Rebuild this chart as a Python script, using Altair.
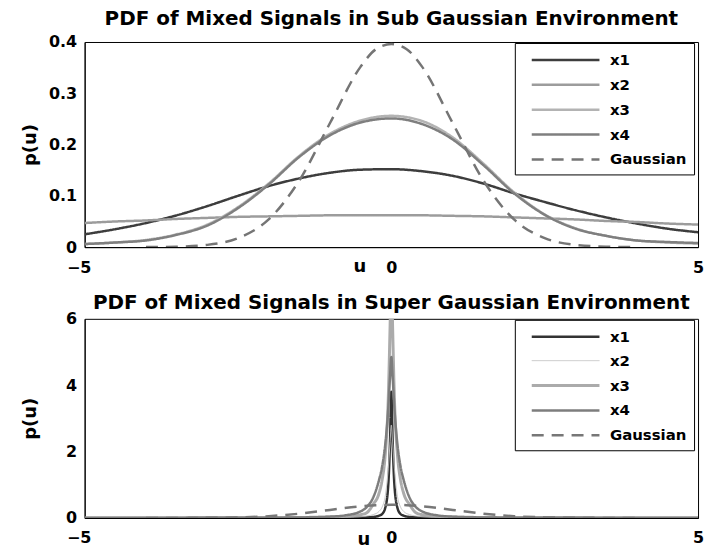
import altair as alt
import pandas as pd

FONT = "DejaVu Sans"
SERIES = ["x1", "x2", "x3", "x4", "Gaussian"]

# ---------- top panel (sub-Gaussian) ----------
U_TOP = [-5.0, -4.5, -4.0, -3.5, -3.0, -2.5, -2.0, -1.5, -1.0, -0.5, 0.0,
         0.5, 1.0, 1.5, 2.0, 2.5, 3.0, 3.5, 4.0, 4.5, 5.0]
TOP_X1 = [0.025, 0.035, 0.047, 0.062, 0.080, 0.100, 0.119, 0.134, 0.145, 0.151, 0.152,
          0.148, 0.139, 0.124, 0.105, 0.088, 0.072, 0.058, 0.046, 0.036, 0.029]
TOP_X2 = [0.047, 0.050, 0.052, 0.055, 0.057, 0.059, 0.060, 0.061, 0.062, 0.062, 0.062,
          0.062, 0.061, 0.060, 0.058, 0.056, 0.054, 0.051, 0.049, 0.046, 0.044]
TOP_X3 = [0.006, 0.009, 0.014, 0.025, 0.044, 0.078, 0.124, 0.178, 0.221, 0.247, 0.256,
          0.246, 0.214, 0.163, 0.107, 0.064, 0.037, 0.022, 0.013, 0.009, 0.007]
TOP_X4 = [0.006, 0.009, 0.013, 0.024, 0.042, 0.076, 0.122, 0.176, 0.218, 0.243, 0.251,
          0.240, 0.210, 0.160, 0.105, 0.063, 0.036, 0.022, 0.013, 0.010, 0.008]

U_GAUSS = [-4.0, -3.5, -3.0, -2.5, -2.0, -1.5, -1.0, -0.5, -0.25, 0.0,
           0.25, 0.5, 1.0, 1.5, 2.0, 2.5, 3.0, 3.5, 4.0]
GAUSS = [0.0001, 0.0009, 0.0044, 0.0175, 0.054, 0.130, 0.242, 0.352, 0.386, 0.396,
         0.386, 0.352, 0.242, 0.130, 0.054, 0.0175, 0.0044, 0.0009, 0.0001]

# ---------- bottom panel (super-Gaussian) ----------
U_BOT = [-5.0, -4.0, -3.0, -2.0, -1.5, -1.0, -0.75, -0.5, -0.4, -0.3, -0.2, -0.15, -0.1,
         -0.05, -0.02, 0.0, 0.02, 0.05, 0.1, 0.15, 0.2, 0.3, 0.4, 0.5, 0.75, 1.0, 1.5,
         2.0, 3.0, 4.0, 5.0]
BOT_X1 = [0.0, 0.0, 0.001, 0.002, 0.003, 0.005, 0.008, 0.013, 0.02, 0.03, 0.07, 0.12, 0.3,
          1.0, 2.4, 3.8, 2.4, 1.0, 0.3, 0.12, 0.07, 0.03, 0.02, 0.013, 0.008, 0.005, 0.003,
          0.002, 0.001, 0.0, 0.0]
BOT_X2 = [0.0, 0.001, 0.002, 0.004, 0.007, 0.012, 0.02, 0.04, 0.06, 0.1, 0.2, 0.33, 0.65,
          1.5, 2.3, 2.8, 2.3, 1.5, 0.65, 0.33, 0.2, 0.1, 0.06, 0.04, 0.02, 0.012, 0.007,
          0.004, 0.002, 0.001, 0.0]
BOT_X3 = [0.001, 0.002, 0.004, 0.008, 0.015, 0.03, 0.05, 0.1, 0.16, 0.4, 0.75, 1.15, 1.9,
          3.6, 5.8, 7.5, 5.8, 3.6, 1.9, 1.15, 0.75, 0.4, 0.16, 0.1, 0.05, 0.03, 0.015,
          0.008, 0.004, 0.002, 0.001]
BOT_X4 = [0.001, 0.002, 0.004, 0.008, 0.015, 0.04, 0.08, 0.2, 0.33, 0.6, 1.15, 1.55, 2.2,
          3.3, 4.3, 4.85, 4.3, 3.3, 2.2, 1.55, 1.15, 0.6, 0.33, 0.2, 0.08, 0.04, 0.015,
          0.008, 0.004, 0.002, 0.001]

TOP_COLORS = ["#3d3d3d", "#9c9c9c", "#b3b3b3", "#7f7f7f", "#757575"]
BOT_COLORS = ["#333333", "#c4c4c4", "#ababab", "#7d7d7d", "#777777"]
TOP_WIDTHS = [2.5, 2.5, 2.5, 2.5, 2.5]
BOT_WIDTHS = [2.5, 1.0, 3.0, 2.5, 2.5]
DASHES = [[1, 0], [1, 0], [1, 0], [1, 0], [12, 8]]


def table(us, vs):
    rows = []
    for s in SERIES:
        for u, v in zip(us[s], vs[s]):
            rows.append({"series": s, "u": u, "p": v})
    return pd.DataFrame(rows)


top_df = table(
    {"x1": U_TOP, "x2": U_TOP, "x3": U_TOP, "x4": U_TOP, "Gaussian": U_GAUSS},
    {"x1": TOP_X1, "x2": TOP_X2, "x3": TOP_X3, "x4": TOP_X4, "Gaussian": GAUSS},
)
bot_df = table(
    {"x1": U_BOT, "x2": U_BOT, "x3": U_BOT, "x4": U_BOT, "Gaussian": U_GAUSS},
    {"x1": BOT_X1, "x2": BOT_X2, "x3": BOT_X3, "x4": BOT_X4, "Gaussian": GAUSS},
)


def make_legend():
    return alt.Legend(
        title=None, orient="none", legendX=432, legendY=1,
        strokeColor="black", fillColor="white", padding=7,
        symbolType="M0,0L8,0", symbolSize=289, symbolFillColor="transparent",
        labelFont=FONT, labelFontSize=15, labelFontWeight="bold", labelColor="black",
        labelOffset=68.5, rowPadding=7,
    )


def panel(df, title, ymax, yvals, colors, widths, height, title_offset, ux, uy):
    leg = make_legend()
    x_axis = alt.Axis(
        values=[-5, 0, 5], title="u", titleX=ux, titleY=uy, titleAlign="center",
        titleBaseline="alphabetic", titleFont=FONT, titleFontSize=18,
        titleFontWeight="bold", titleColor="black",
        labelFont=FONT, labelFontSize=16, labelFontWeight="bold", labelColor="black",
        labelPadding=12, labelFlush=False,
        labelOffset={"condition": {"test": "datum.value < 0", "value": -6}, "value": 0},
        ticks=False, grid=False, domainColor="black",
    )
    y_axis = alt.Axis(
        values=yvals,
        labelExpr="datum.value == 0 ? '0' : format(datum.value, '" + ("" if ymax > 1 else ".1f") + "')",
        title="p(u)", titleX=-49, titleY=height / 2, titleAngle=270, titleAlign="center",
        titleBaseline="alphabetic", titleFont=FONT, titleFontSize=18,
        titleFontWeight="bold", titleColor="black",
        labelFont=FONT, labelFontSize=16, labelFontWeight="bold", labelColor="black",
        labelPadding=8, labelFlush=False, ticks=False, grid=False, domainColor="black",
    )
    return alt.Chart(df).mark_line(clip=True, interpolate="monotone").encode(
        x=alt.X("u:Q", scale=alt.Scale(domain=[-5, 5], nice=False, zero=False), axis=x_axis),
        y=alt.Y("p:Q", scale=alt.Scale(domain=[0, ymax], nice=False), axis=y_axis),
        color=alt.Color("series:N", scale=alt.Scale(domain=SERIES, range=colors), legend=leg),
        strokeDash=alt.StrokeDash("series:N", scale=alt.Scale(domain=SERIES, range=DASHES), legend=leg),
        strokeWidth=alt.StrokeWidth("series:N", scale=alt.Scale(type="ordinal", domain=SERIES, range=widths), legend=leg),
    ).properties(
        width=616, height=height,
        title=alt.TitleParams(title, frame="group", offset=title_offset, baseline="alphabetic",
                              font=FONT, fontSize=20, fontWeight="bold", color="black"),
    )


top = panel(top_df, "PDF of Mixed Signals in Sub Gaussian Environment", 0.4,
            [0, 0.1, 0.2, 0.3, 0.4], TOP_COLORS, TOP_WIDTHS, 206, -11, 276, 24)
bottom = panel(bot_df, "PDF of Mixed Signals in Super Gaussian Environment", 6,
               [0, 2, 4, 6], BOT_COLORS, BOT_WIDTHS, 200, -18, 280, 27)

chart = alt.vconcat(top, bottom, spacing=72, bounds="flush").resolve_scale(
    x="independent", y="independent", color="independent",
    strokeDash="independent", strokeWidth="independent",
).resolve_legend(
    color="independent", strokeDash="independent", strokeWidth="independent",
).properties(
    padding={"left": 21, "top": 7, "right": 2, "bottom": 2},
    background="white",
).configure_view(stroke="black", strokeWidth=1)

chart.save("out.html", embed_options={"renderer": "svg", "actions": False})
